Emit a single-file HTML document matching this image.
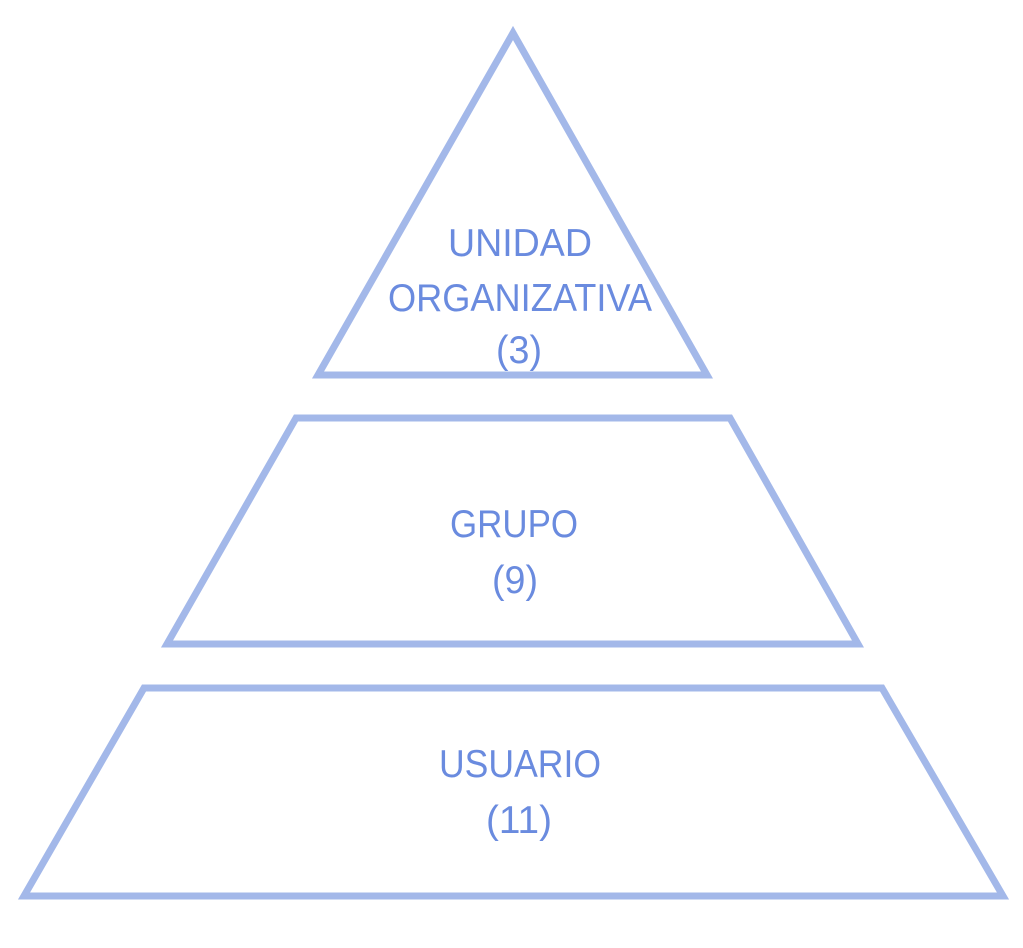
<!DOCTYPE html>
<html><head><meta charset="utf-8"><style>html,body{margin:0;padding:0;background:#fff;}svg{display:block}</style></head>
<body>
<svg width="1023" height="948" viewBox="0 0 1023 948" xmlns="http://www.w3.org/2000/svg">
<g fill="none" stroke="#a3b8e9" stroke-width="7" stroke-linejoin="miter">
<polygon points="513,33 707,375 318,375"/>
<polygon points="296,418 730,418 858,644 167,644"/>
<polygon points="144,688 882,688 1003,896 24,896"/>
</g>
<g fill="#6a8bdf" font-family="Liberation Sans, sans-serif" font-size="39" text-anchor="middle">
<text x="520" y="256" textLength="144" lengthAdjust="spacingAndGlyphs">UNIDAD</text>
<text x="520" y="311" textLength="264" lengthAdjust="spacingAndGlyphs">ORGANIZATIVA</text>
<text x="519" y="363" textLength="46" lengthAdjust="spacingAndGlyphs">(3)</text>
<text x="514" y="537" textLength="128" lengthAdjust="spacingAndGlyphs">GRUPO</text>
<text x="515" y="593" textLength="46" lengthAdjust="spacingAndGlyphs">(9)</text>
<text x="520" y="777" textLength="162" lengthAdjust="spacingAndGlyphs">USUARIO</text>
<text x="519" y="833" textLength="66" lengthAdjust="spacingAndGlyphs">(11)</text>
</g>
</svg>
</body></html>
